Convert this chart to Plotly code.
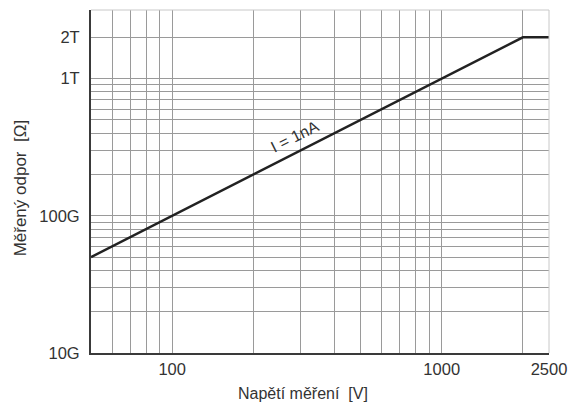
import math
import plotly.graph_objects as go

# ---- data ----
voltage = [50, 2000, 2500]            # V
resistance = [5e10, 2e12, 2e12]       # Ohm (I = 1 nA, limited at 2 TOhm)

x_grid = [60, 70, 80, 90, 100, 200, 300, 400, 500, 600, 700, 800, 900, 1000, 2000, 2500]
x_labels = {100: "100", 1000: "1000", 2500: "2500"}

y_grid = [1e10, 2e10, 3e10, 4e10, 5e10, 6e10, 7e10, 8e10, 9e10,
          1e11, 2e11, 3e11, 4e11, 5e11, 6e11, 7e11, 8e11, 9e11, 1e12, 2e12]
y_labels = {1e10: "10G", 1e11: "100G", 1e12: "1T", 2e12: "2T"}

label_v = 300
label_text = "I = 1nA"

FONT = "Liberation Sans, Arial, sans-serif"
GRID = "#9a9a9a"

fig = go.Figure()
fig.add_trace(go.Scatter(x=voltage, y=resistance, mode="lines",
                         line=dict(color="#222222", width=2.5),
                         hoverinfo="skip", showlegend=False))

fig.update_layout(
    width=577, height=402,
    margin=dict(l=91, r=22, t=10, b=49),
    paper_bgcolor="white", plot_bgcolor="white",
    font=dict(family=FONT, size=16, color="#333333"),
    showlegend=False,
)

fig.update_xaxes(
    type="log", range=[math.log10(50), math.log10(2500)],
    tickvals=x_grid, ticktext=[x_labels.get(v, "") for v in x_grid],
    showgrid=True, gridcolor=GRID, gridwidth=1,
    showline=True, linecolor="#3a3a3a", linewidth=2,
    ticks="", zeroline=False,
    tickfont=dict(family=FONT, size=16.5, color="#333333"),
)
fig.update_yaxes(
    type="log", range=[10, 12.5],
    tickvals=y_grid, ticktext=[y_labels.get(v, "") for v in y_grid],
    showgrid=True, gridcolor=GRID, gridwidth=1,
    showline=True, linecolor="#3a3a3a", linewidth=2,
    ticks="", ticklabelstandoff=6, zeroline=False,
    tickfont=dict(family=FONT, size=16.5, color="#333333"),
)

# light top/right border
fig.add_shape(type="line", xref="paper", yref="paper", x0=0, x1=1, y0=1, y1=1,
              line=dict(color="#c8c8c8", width=1))
fig.add_shape(type="line", xref="paper", yref="paper", x0=1, x1=1, y0=0, y1=1,
              line=dict(color="#c8c8c8", width=1))

# line label
fig.add_annotation(x=math.log10(label_v), y=math.log10(label_v * 1e9),
                   text=label_text, showarrow=False, textangle=-26.5,
                   xshift=-6, yshift=14, xanchor="center", yanchor="middle",
                   font=dict(family=FONT, size=16, color="#333333"))

# axis titles
fig.add_annotation(xref="paper", yref="paper", x=-0.155, y=0.48,
                   text="Měřený odpor  [Ω]", showarrow=False, textangle=-90,
                   xanchor="center", yanchor="middle",
                   font=dict(family=FONT, size=17, color="#333333"))
fig.add_annotation(xref="paper", yref="paper", x=0.463, y=-0.117,
                   text="Napětí měření  [V]", showarrow=False,
                   xanchor="center", yanchor="middle",
                   font=dict(family=FONT, size=16, color="#333333"))

fig.write_html("out.html", config={"displayModeBar": False},
               post_script="document.body.style.margin='0';")
